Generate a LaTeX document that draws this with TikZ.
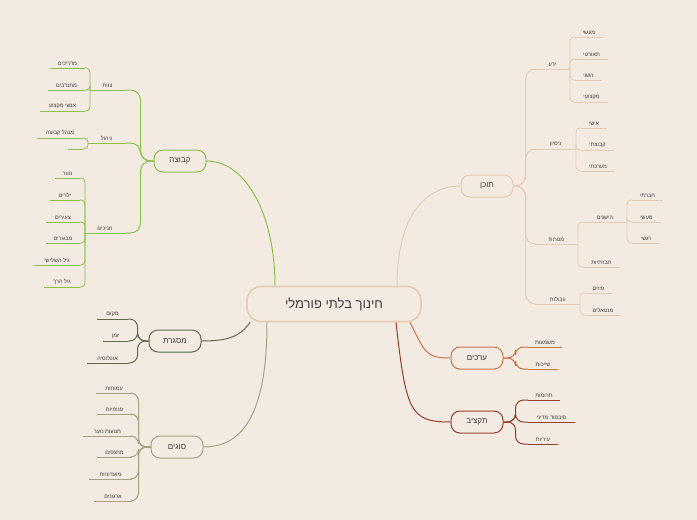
\documentclass[tikz,border=0pt]{standalone}
\usepackage{fontspec}
\newfontfamily\heb[Script=Hebrew]{Liberation Sans}
\TeXXeTstate=1
\usetikzlibrary{calc,positioning}
\definecolor{bg}{HTML}{F3EBE2}
\definecolor{txt}{HTML}{3A3A3A}
\definecolor{kvcol}{HTML}{8CBF4C}
\definecolor{mscol}{HTML}{5F6A4C}
\definecolor{sgcol}{HTML}{A8A182}
\definecolor{tccol}{HTML}{E6CCB4}
\definecolor{arcol}{HTML}{C7764A}
\definecolor{tkcol}{HTML}{93402E}
\newcommand\rtl[1]{\beginR #1\endR}
% leaf: name, x from, x to, y, text
\newcommand\leaf[5]{%
  \coordinate (#1-l) at (#2,#4);
  \coordinate (#1-r) at (#3,#4);
  \draw[leafline] (#1-l) -- (#1-r);
  \node[leaftext] (#1) at ($(#1-l)!0.5!(#1-r)$) {\rtl{#5}};}

\begin{document}
\begin{tikzpicture}[
    x=1pt, y=-1pt,
        leafline/.style = {line width=0.8pt},
        leaftext/.style = {anchor=south, inner sep=2pt, text=txt,
                           font=\heb\fontsize{5.5}{6}\selectfont},
        topic/.style = {draw, fill=bg, line width=1pt, rounded corners=9pt,
                        minimum width=52pt, minimum height=22pt, text=txt,
                        font=\heb\fontsize{8}{9}\selectfont},
        root/.style = {draw=tccol, fill=bg, line width=1.6pt, rounded corners=14pt,
                       minimum width=174pt, minimum height=35pt, text=txt,
                       font=\heb\fontsize{13}{14}\selectfont},
        trunk/.style = {line width=1pt},
        brace/.style = {line width=0.8pt, rounded corners=4pt}
        ]
    \fill[bg] (0,0) rectangle (697,520);

    \node[root] (root) at (334,304) {\rtl{חינוך בלתי פורמלי}};

    %% kvutza
    \begin{scope}[color=kvcol]
    \node[topic] (kvutza) at (180,161) {\rtl{קבוצה}};
    \draw[trunk] ([xshift=-59pt]root.north) .. controls +(0,-70) and +(40,0) .. (kvutza.east);
    \leaf{tzevet}{90}{125}{90}{צוות}
    \leaf{nihul}{88}{125}{143}{ניהול}
    \leaf{chanichim}{85}{125}{233}{חניכים}
    \foreach \c in {tzevet,nihul,chanichim}
        \draw[trunk, rounded corners=10pt] (kvutza.west) -- ++(-13,0) |- (\c-r);
    \leaf{madrichim}{50}{85}{68}{מדריכים}
    \leaf{mitnadvim}{48}{85}{90}{מתנדבים}
    \leaf{anshei}{40}{85}{111}{אנשי מקצוע}
    \foreach \c in {madrichim,mitnadvim,anshei}
        \draw[brace] (tzevet-l) |- (\c-r);
    \leaf{menahel}{37}{83}{138}{מנהל קבוצה}
    \leaf{empty}{68}{83}{149}{}
    \foreach \c in {menahel,empty}
        \draw[brace] (nihul-l) |- (\c-r);
    \leaf{noar}{55}{80}{178}{נוער}
    \leaf{yeladim}{50}{80}{200}{ילדים}
    \leaf{tzeirim}{46}{80}{222}{צעירים}
    \leaf{mevugarim}{46}{80}{243}{מבוגרים}
    \leaf{shlishi}{34}{80}{265}{גיל השלישי}
    \leaf{harach}{44}{80}{287}{גיל הרך}
    \foreach \c in {noar,yeladim,tzeirim,mevugarim,shlishi,harach}
        \draw[brace] (chanichim-l) |- (\c-r);
    \end{scope}

    %% masgeret
    \begin{scope}[color=mscol]
    \node[topic] (masgeret) at (175,341) {\rtl{מסגרת}};
    \draw[trunk] ([xshift=-84pt]root.south) .. controls +(-10,15) and +(25,0) .. (masgeret.east);
    \leaf{makom}{97}{128}{319}{מקום}
    \leaf{zman}{103}{128}{341}{זמן}
    \leaf{ochlusia}{87}{128}{363}{אוכלוסיה}
    \foreach \c in {makom,zman,ochlusia}
        \draw[trunk, rounded corners=8pt] (masgeret.west) -- ++(-11,0) |- (\c-r);
    \end{scope}

    %% sugim
    \begin{scope}[color=sgcol]
    \node[topic] (sugim) at (177,447) {\rtl{סוגים}};
    \draw[trunk] ([xshift=-67pt]root.south) .. controls +(0,90) and +(40,0) .. (sugim.east);
    \leaf{amutot}{96}{132}{393}{עמותות}
    \leaf{pnimiot}{97}{132}{414}{פנימיות}
    \leaf{tnuot}{83}{132}{436}{תנועות נוער}
    \leaf{matnasim}{97}{132}{457}{מתנסים}
    \leaf{moadoniot}{89}{132}{479}{מועדוניות}
    \leaf{irgunim}{94}{132}{501}{ארגונים}
    \foreach \c in {amutot,pnimiot,tnuot,matnasim,moadoniot,irgunim}
        \draw[trunk, rounded corners=8pt] (sugim.west) -- ++(-12,0) |- (\c-r);
    \end{scope}

    %% tochen
    \begin{scope}[color=tccol]
    \node[topic] (tochen) at (487,186) {\rtl{תוכן}};
    \draw[trunk] ([xshift=63pt]root.north) .. controls +(0,-70) and +(-35,0) .. (tochen.west);
    \leaf{yeda}{535}{570}{69}{ידע}
    \leaf{nisayon}{535}{576}{149}{ניסיון}
    \leaf{matarot}{535}{578}{244}{מטרות}
    \leaf{gvulot}{535}{580}{304}{גבולות}
    \foreach \c in {yeda,nisayon,matarot,gvulot}
        \draw[trunk, rounded corners=10pt] (tochen.east) -- ++(12,0) |- (\c-l);
    \leaf{maasi}{575}{603}{37}{מעשי}
    \leaf{teoreti}{575}{608}{59}{תאורטי}
    \leaf{rigshi}{575}{602}{80}{רגשי}
    \leaf{miktzoi}{575}{608}{102}{מקצועי}
    \foreach \c in {maasi,teoreti,rigshi,miktzoi}
        \draw[brace] (yeda-r) |- (\c-l);
    \leaf{ishi}{581}{607}{128}{אישי}
    \leaf{kvutzati}{581}{614}{150}{קבוצתי}
    \leaf{maarachti}{581}{615}{171}{מערכתי}
    \foreach \c in {ishi,kvutzati,maarachti}
        \draw[brace] (nisayon-r) |- (\c-l);
    \leaf{hesegim}{583}{627}{222}{הישגים}
    \leaf{chevratiut}{583}{620}{267}{חברתיות}
    \foreach \c in {hesegim,chevratiut}
        \draw[brace] (matarot-r) |- (\c-l);
    \leaf{chevrati}{632}{663}{200}{חברתי}
    \leaf{maasib}{632}{661}{222}{מעשי}
    \leaf{rigshib}{632}{660}{243}{רגשי}
    \foreach \c in {chevrati,maasib,rigshib}
        \draw[brace] (hesegim-r) |- (\c-l);
    \leaf{fizim}{585}{612}{293}{פיזים}
    \leaf{mentalim}{585}{621}{315}{מנטאלים}
    \foreach \c in {fizim,mentalim}
        \draw[brace] (gvulot-r) |- (\c-l);
    \end{scope}

    %% arachim
    \begin{scope}[color=arcol]
    \node[topic] (arachim) at (477,358) {\rtl{ערכים}};
    \draw[trunk] ([xshift=76pt]root.south) .. controls +(15,30) and +(-25,0) .. (arachim.west);
    \leaf{mashmaut}{528}{562}{347}{משמעות}
    \leaf{shayachut}{528}{558}{369}{שייכות}
    \foreach \c in {mashmaut,shayachut}
        \draw[trunk, rounded corners=8pt] (arachim.east) -- ++(12,0) |- (\c-l);
    \end{scope}

    %% taktziv
    \begin{scope}[color=tkcol]
    \node[topic] (taktziv) at (477,422) {\rtl{תקציב}};
    \draw[trunk] ([xshift=62pt]root.south) .. controls +(10,90) and +(-40,0) .. (taktziv.west);
    \leaf{trumot}{528}{560}{400}{תרומות}
    \leaf{sivsud}{528}{575}{422}{סיבסוד מדיני}
    \leaf{iriyot}{528}{558}{444}{עיריות}
    \foreach \c in {trumot,sivsud,iriyot}
        \draw[trunk, rounded corners=8pt] (taktziv.east) -- ++(12,0) |- (\c-l);
    \end{scope}
\end{tikzpicture}
\end{document}
